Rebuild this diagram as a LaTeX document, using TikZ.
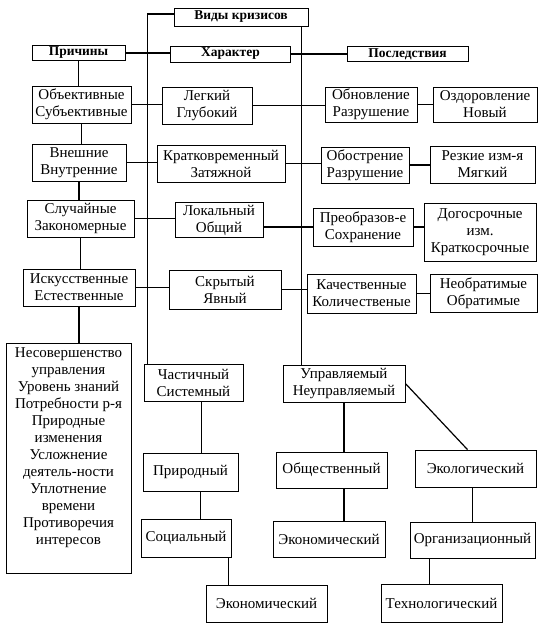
\documentclass[tikz,border=0pt]{standalone}
\usepackage{fontspec}
\setmainfont{Liberation Serif}
\usetikzlibrary{positioning,calc}

\begin{document}
\begin{tikzpicture}[x=1pt, y=-1pt, line width=1.2pt]
    \tikzset{
      box/.style={draw, line width=0.8pt, align=center, inner sep=0pt,
                  font=\fontsize{15}{17}\selectfont},
      head/.style={box, font=\fontsize{13.5}{15}\selectfont\bfseries},
      sz/.style 2 args={minimum width=#1pt, minimum height=#2pt},
    }
    \useasboundingbox (0,0) rectangle (538,628);

    % headers
    \node[head, sz={134}{18}] (vid) at (241,17) {Виды кризисов};
    \node[head, sz={93}{15}] (prich) at (78.5,53) {Причины};
    \node[head, sz={120}{16}] (har) at (230.5,54) {Характер};
    \node[head, sz={121}{15}] (posl) at (407.5,54) {Последствия};

    % causes
    \node[box, sz={99}{37}] (obj) at (81.5,104.5) {Объективные\\Субъективные};
    \node[box, sz={94}{37}] (vne) at (79,162.5) {Внешние\\Внутренние};
    \node[box, sz={107}{37}] (slu) at (80.5,218.5) {Случайные\\Закономерные};
    \node[box, sz={112}{37}] (isk) at (79,287.5) {Искусственные\\Естественные};
    \node[box, minimum width=125pt, inner ysep=4pt, anchor=north] (nes) at (68.5,343)
      {Несовершенство\\управления\\Уровень знаний\\Потребности р-я\\Природные\\изменения\\
       Усложнение\\деятель-ности\\Уплотнение\\времени\\Противоречия\\интересов\\
       \rule{0pt}{21pt}};

    % character
    \node[box, sz={90}{37}] (leg) at (207,105.5) {Легкий\\Глубокий};
    \node[box, sz={128}{37}] (kra) at (221,163.5) {Кратковременный\\Затяжной};
    \node[box, sz={88}{35}] (lok) at (219,220) {Локальный\\Общий};
    \node[box, sz={112}{39}] (skr) at (225,289.5) {Скрытый\\Явный};
    \node[box, sz={99}{37}] (cha) at (193.5,382.5) {Частичный\\Системный};
    \node[box, sz={95}{38}] (prd) at (190.5,472) {Природный};
    \node[box, sz={90}{38}] (soc) at (186,538) {Социальный};
    \node[box, sz={121}{37}] (eko1) at (266.5,603.5) {Экономический};

    % consequences
    \node[box, sz={92}{35}] (obn) at (371,104.5) {Обновление\\Разрушение};
    \node[box, sz={104}{35}] (ozd) at (485,104.5) {Оздоровление\\Новый};
    \node[box, sz={88}{36}] (obo) at (365,165) {Обострение\\Разрушение};
    \node[box, sz={105}{37}] (rez) at (482.5,164.5) {Резкие изм-я\\Мягкий};
    \node[box, sz={100}{38}] (pre) at (363,227) {Преобразов-е\\Сохранение};
    \node[box, sz={112}{58}] (dog) at (480,232) {Догосрочные\\изм.\\Краткосрочные};
    \node[box, sz={109}{39}] (kac) at (361.5,293.5) {Качественные\\Количественые};
    \node[box, sz={107}{38}] (neo) at (483.5,293) {Необратимые\\Обратимые};

    \node[box, sz={122}{37}] (upr) at (344,383.5) {Управляемый\\Неуправляемый};
    \node[box, sz={111}{36}] (obs) at (331.5,470) {Общественный};
    \node[box, sz={112}{36}] (eko2) at (329,539) {Экономический};
    \node[box, sz={121}{37}] (ekl) at (475.5,468.5) {Экологический};
    \node[box, sz={125}{36}] (org) at (472.5,540) {Организационный};
    \node[box, sz={121}{38}] (teh) at (441.5,603) {Технологический};

    % spines
    \draw ([yshift=3pt]vid.west) -| ([xshift=4pt]cha.north west);
    \draw ([xshift=-7pt]vid.south east) -- ([xshift=-7pt]vid.south east |- upr.north);

    % rows
    \draw (prich.east) -- (prich.east -| har.west);
    \draw (har.east) -- (har.east -| posl.west);
    \foreach \a/\b/\c/\d in {obj/leg/obn/ozd, vne/kra/obo/rez, isk/skr/kac/neo} {
      \draw (\a.east) -- (\a.east -| \b.west);
      \draw (\b.east) -- (\b.east -| \c.west);
      \draw (\c.east) -- (\c.east -| \d.west);
    }
    \draw (slu.east) -- (slu.east -| lok.west);
    \draw (pre.west -| lok.east) -- (pre.west);
    \draw (pre.east) -- (pre.east -| dog.west);

    % columns
    \foreach \a/\b in {prich/obj, obj/vne, vne/slu, slu/isk, isk/nes}
      \draw (\a.south) -- (\a.south |- \b.north);
    \draw ([xshift=8pt]cha.south) -- ([xshift=8pt]cha.south |- prd.north);
    \draw ([xshift=10pt]prd.south) -- ([xshift=10pt]prd.south |- soc.north);
    \draw ([xshift=-3pt]soc.south east) -- ([xshift=-3pt]soc.south east |- eko1.north);
    \draw (upr.south) -- (upr.south |- obs.north);
    \draw (upr.south |- obs.south) -- (upr.south |- eko2.north);
    \draw (upr.east) -- ([xshift=-8pt]ekl.north);
    \draw (org.north) -- (org.north |- ekl.south);
    \draw ([xshift=-12pt]teh.north) -- ([xshift=-12pt]teh.north |- org.south);
\end{tikzpicture}
\end{document}
